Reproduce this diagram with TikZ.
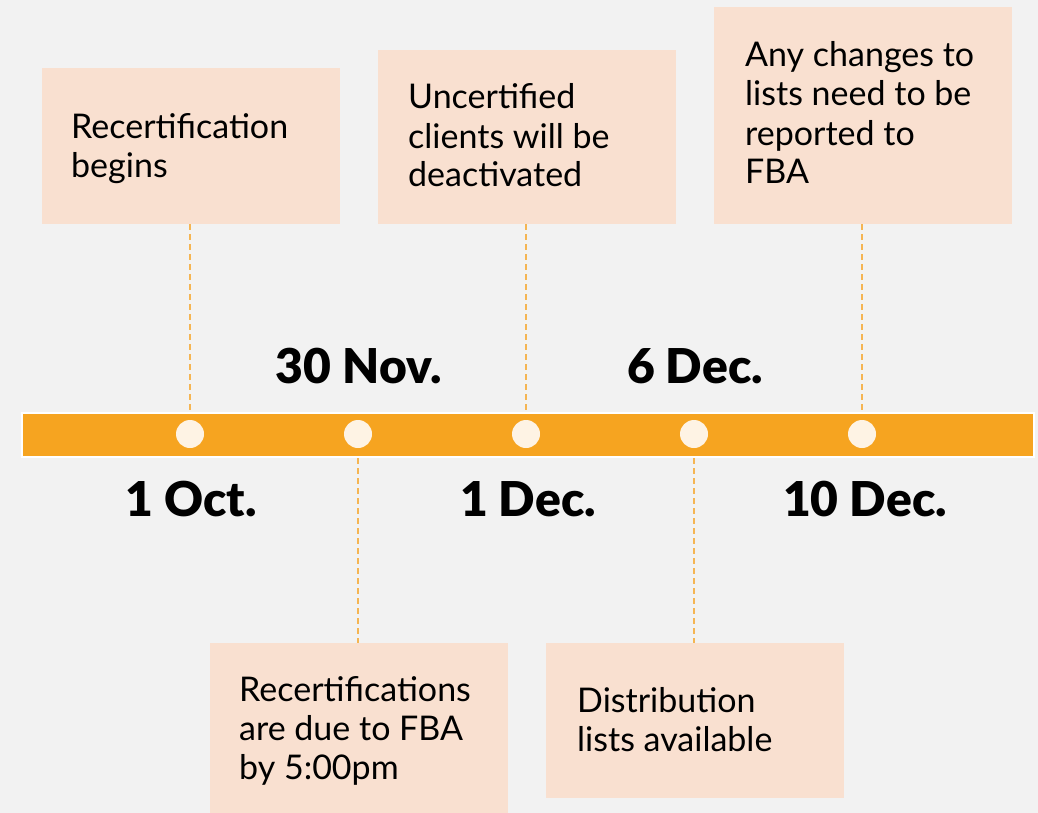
\documentclass[tikz,border=0pt]{standalone}
\usepackage{fontspec}
\setmainfont{Lato}
\newfontfamily\heavyfont{Lato Black}
\definecolor{bgcol}{HTML}{F2F2F2}
\definecolor{barcol}{HTML}{F6A420}
\definecolor{dotcol}{HTML}{FEF3E4}
\definecolor{boxcol}{HTML}{F9E0D0}
\definecolor{leadcol}{HTML}{F5B553}
\begin{document}
\begin{tikzpicture}[x=1pt,y=-1pt,
  eventbox/.style={draw=none,fill=boxcol,rectangle,anchor=north west,inner sep=0pt,minimum width=298pt},
  eventtext/.style={anchor=base west,inner sep=0pt,align=left,font=\fontsize{34}{39}\selectfont},
  datelabel/.style={anchor=base,inner sep=0pt,font=\heavyfont\fontsize{48}{58}\selectfont},
  dot/.style={circle,fill=dotcol,draw=none,minimum size=28pt,inner sep=0pt},
  leader/.style={draw=leadcol,line width=2pt,dash pattern=on 6pt off 4pt}]
% canvas
\fill[bgcol] (0,0) rectangle (1038,813);
\useasboundingbox (0,0) rectangle (1038,813);

% timeline bar
\node[draw=white,line width=2pt,fill=barcol,rectangle,anchor=north west,inner sep=0pt,
      minimum width=1012pt,minimum height=44pt] (bar) at (21,412) {};

% milestone dots
\node[dot] (d1) at (190,434) {};
\node[dot] (d2) at (358,434) {};
\node[dot] (d3) at (526,434) {};
\node[dot] (d4) at (694,434) {};
\node[dot] (d5) at (862,434) {};

% event boxes above the bar
\node[eventbox,minimum height=156pt] (b1) at (42,68) {};
\node[eventbox,minimum height=174pt] (b2) at (378,50) {};
\node[eventbox,minimum height=217pt] (b3) at (714,7) {};
% event boxes below the bar
\node[eventbox,minimum height=172pt] (b4) at (210,643) {};
\node[eventbox,minimum height=155pt] (b5) at (546,643) {};

% box texts (anchored at the baseline of their last line)
\node[eventtext] (t1) at (71,178) {Recertification\\begins};
\node[eventtext] (t2) at (408,187) {Uncertified\\clients will be\\deactivated};
\node[eventtext] (t3) at (745,184) {Any changes to\\lists need to be\\reported to\\FBA};
\node[eventtext] (t4) at (239,779) {Recertifications\\are due to FBA\\by 5:00pm};
\node[eventtext] (t5) at (577,751) {Distribution\\lists available};

% leaders from boxes to the bar
\path[leader] (b1.south -| d1) -- (bar.north -| d1);
\path[leader] (b2.south -| d3) -- (bar.north -| d3);
\path[leader] (b3.south -| d5) -- (bar.north -| d5);
\path[leader] (bar.south -| d2) -- (b4.north -| d2);
\path[leader] (bar.south -| d4) -- (b5.north -| d4);

% dates
\node[datelabel] (l2) at (359,383) {30 Nov.};
\node[datelabel] (l4) at (695,383) {6 Dec.};
\node[datelabel] (l1) at (191,516) {1 Oct.};
\node[datelabel] (l3) at (528,516) {1 Dec.};
\node[datelabel] (l5) at (865,516) {10 Dec.};
\end{tikzpicture}
\end{document}
